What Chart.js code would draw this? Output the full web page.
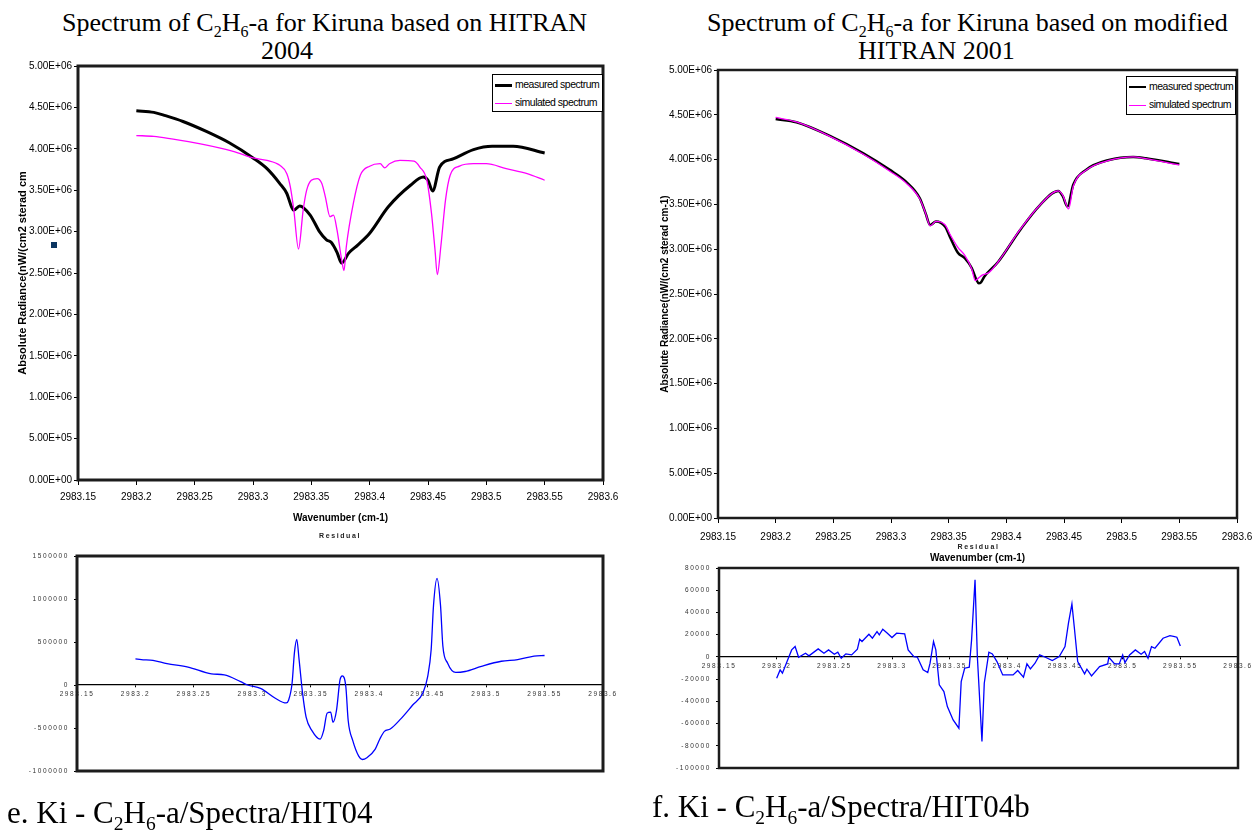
<!DOCTYPE html>
<html>
<head>
<meta charset="utf-8">
<script src="https://cdn.jsdelivr.net/npm/chart.js@4.4.1/dist/chart.umd.min.js"></script>
<style>
body { margin: 0; background: #fff; }
#page { position: relative; width: 1257px; height: 833px; overflow: hidden; background: #fff; }
canvas { position: absolute; }
.t { position: absolute; font-family: 'Liberation Serif', 'Times New Roman', serif; font-size: 26px; line-height: 26px; white-space: nowrap; color: #000; }
.t sub { font-size: 16px; vertical-align: -6px; line-height: 0; }
.cap { font-size: 31px; line-height: 31px; }
.cap sub { font-size: 19.5px; vertical-align: -7px; }
.legend { position: absolute; box-sizing: border-box; border: 1px solid #000; background: #fff; font-family: 'Liberation Sans', Arial, sans-serif; font-size: 10.5px; letter-spacing: -0.5px; padding: 0 2px; }
.legend div { height: 18px; line-height: 18px; white-space: nowrap; }
.legend .sw { display: inline-block; width: 17px; vertical-align: middle; margin-right: 3px; }
.dot { position: absolute; left: 51px; top: 242px; width: 6px; height: 6px; background: #0b3560; }
</style>
</head>
<body>
<div id="page">
  <div class="t" style="left:62px; top:10px;">Spectrum of C<sub>2</sub>H<sub>6</sub>-a for Kiruna based on HITRAN</div>
  <div class="t" style="left:261px; top:38px;">2004</div>
  <div class="t" style="left:707px; top:10px;">Spectrum of C<sub>2</sub>H<sub>6</sub>-a for Kiruna based on modified</div>
  <div class="t" style="left:858px; top:38px;">HITRAN 2001</div>

  <canvas id="specA" width="630" height="490" style="left:0; top:50px;"></canvas>
  <canvas id="specC" width="627" height="525" style="left:630px; top:50px;"></canvas>
  <canvas id="resB" width="630" height="300" style="left:0; top:525px;"></canvas>
  <canvas id="resD" width="627" height="288" style="left:630px; top:537px;"></canvas>

  <div class="dot"></div>
  <div class="legend" id="legA" style="left:492px; top:74px; width:111px; height:38px;"></div>
  <div class="legend" id="legC" style="left:1126px; top:76px; width:110px; height:39px;"></div>

  <div class="t cap" style="left:7px; top:797px;">e. Ki - C<sub>2</sub>H<sub>6</sub>-a/Spectra/HIT04</div>
  <div class="t cap" style="left:652px; top:791px;">f. Ki - C<sub>2</sub>H<sub>6</sub>-a/Spectra/HIT04b</div>
</div>

<script>
// wavenumber axis (cm-1)
const wnMin = 2983.15;
const wnMax = 2983.6;
const wnStep = 0.05;
const legendLabels = ['measured spectrum', 'simulated spectrum'];

// --- HIT04: measured spectrum
const hit04MeasWn = [2983.200, 2983.215, 2983.225, 2983.240, 2983.260, 2983.280, 2983.300, 2983.312, 2983.323,
  2983.329, 2983.333, 2983.335, 2983.340, 2983.349, 2983.357, 2983.363, 2983.367, 2983.372, 2983.376,
  2983.382, 2983.390, 2983.400, 2983.416, 2983.435, 2983.446, 2983.450, 2983.454, 2983.460, 2983.472,
  2983.489, 2983.505, 2983.523, 2983.550];
const hit04Meas = [4.46e6, 4.44e6, 4.40e6, 4.33e6, 4.21e6, 4.07e6, 3.89e6, 3.76e6, 3.58e6,
  3.46e6, 3.30e6, 3.26e6, 3.31e6, 3.20e6, 3.00e6, 2.90e6, 2.87e6, 2.75e6, 2.62e6,
  2.74e6, 2.84e6, 2.98e6, 3.30e6, 3.56e6, 3.66e6, 3.62e6, 3.49e6, 3.78e6, 3.88e6,
  3.99e6, 4.03e6, 4.03e6, 3.95e6];

// --- HIT04: simulated spectrum
const hit04SimWn = [2983.200, 2983.215, 2983.230, 2983.255, 2983.283, 2983.300, 2983.312, 2983.323, 2983.329,
  2983.332, 2983.335, 2983.339, 2983.343, 2983.346, 2983.350, 2983.355, 2983.359, 2983.362, 2983.366,
  2983.369, 2983.372, 2983.376, 2983.378, 2983.380, 2983.386, 2983.392, 2983.400, 2983.409, 2983.413,
  2983.417, 2983.426, 2983.438, 2983.443, 2983.449, 2983.453, 2983.456, 2983.458, 2983.461, 2983.465,
  2983.469, 2983.477, 2983.489, 2983.500, 2983.517, 2983.535, 2983.550];
const hit04Sim = [4.16e6, 4.15e6, 4.12e6, 4.06e6, 3.97e6, 3.89e6, 3.86e6, 3.80e6, 3.70e6,
  3.54e6, 3.26e6, 2.79e6, 3.26e6, 3.50e6, 3.62e6, 3.64e6, 3.58e6, 3.42e6, 3.18e6,
  3.20e6, 3.02e6, 2.66e6, 2.53e6, 2.82e6, 3.34e6, 3.68e6, 3.79e6, 3.82e6, 3.77e6,
  3.82e6, 3.86e6, 3.85e6, 3.78e6, 3.62e6, 3.22e6, 2.78e6, 2.48e6, 2.82e6, 3.38e6,
  3.68e6, 3.79e6, 3.82e6, 3.82e6, 3.76e6, 3.70e6, 3.62e6];

// --- HIT04: residual
const hit04ResWn = [2983.200, 2983.205, 2983.215, 2983.227, 2983.245, 2983.265, 2983.276, 2983.290, 2983.296,
  2983.307, 2983.320, 2983.329, 2983.331, 2983.334, 2983.336, 2983.338, 2983.340, 2983.343, 2983.346,
  2983.351, 2983.358, 2983.361, 2983.364, 2983.367, 2983.369, 2983.372, 2983.375, 2983.377, 2983.380,
  2983.382, 2983.386, 2983.391, 2983.394, 2983.398, 2983.405, 2983.409, 2983.413, 2983.418, 2983.427,
  2983.437, 2983.446, 2983.450, 2983.453, 2983.455, 2983.458, 2983.461, 2983.463, 2983.467, 2983.474,
  2983.482, 2983.496, 2983.513, 2983.527, 2983.541, 2983.550];
const hit04Res = [303000, 295000, 287000, 248000, 209000, 130000, 118000, 39000, 0,
  -39000, -157000, -209000, -177000, 20000, 374000, 531000, 295000, -98000, -374000,
  -531000, -630000, -531000, -327000, -315000, -433000, -295000, 59000, 106000, -20000,
  -413000, -650000, -827000, -866000, -846000, -748000, -630000, -539000, -512000, -394000,
  -236000, -91000, 98000, 413000, 925000, 1240000, 925000, 453000, 256000, 146000,
  157000, 217000, 276000, 295000, 335000, 343000];

// --- HIT04b: measured spectrum
const hit04bMeasWn = [2983.200, 2983.218, 2983.247, 2983.276, 2983.299, 2983.313, 2983.325, 2983.330, 2983.334,
  2983.339, 2983.347, 2983.351, 2983.358, 2983.364, 2983.370, 2983.374, 2983.376, 2983.378, 2983.381,
  2983.393, 2983.412, 2983.429, 2983.445, 2983.449, 2983.453, 2983.458, 2983.469, 2983.489, 2983.510,
  2983.521, 2983.550];
const hit04bMeas = [4.453e6, 4.417e6, 4.264e6, 4.07e6, 3.885e6, 3.754e6, 3.569e6, 3.40e6, 3.27e6,
  3.31e6, 3.25e6, 3.14e6, 2.96e6, 2.90e6, 2.79e6, 2.66e6, 2.62e6, 2.63e6, 2.695e6,
  2.86e6, 3.215e6, 3.49e6, 3.65e6, 3.59e6, 3.475e6, 3.72e6, 3.885e6, 3.996e6, 4.03e6,
  4.015e6, 3.95e6];

// --- HIT04b: simulated spectrum
const hit04bSimWn = [2983.200, 2983.218, 2983.247, 2983.276, 2983.299, 2983.313, 2983.325, 2983.330, 2983.334,
  2983.339, 2983.347, 2983.351, 2983.358, 2983.364, 2983.370, 2983.373, 2983.376, 2983.379, 2983.385,
  2983.393, 2983.412, 2983.429, 2983.445, 2983.449, 2983.454, 2983.458, 2983.469, 2983.489, 2983.510,
  2983.521, 2983.550];
const hit04bSim = [4.47e6, 4.42e6, 4.26e6, 4.06e6, 3.87e6, 3.74e6, 3.56e6, 3.40e6, 3.26e6,
  3.31e6, 3.27e6, 3.17e6, 3.02e6, 2.93e6, 2.78e6, 2.65e6, 2.68e6, 2.71e6, 2.74e6,
  2.86e6, 3.22e6, 3.49e6, 3.65e6, 3.60e6, 3.45e6, 3.70e6, 3.88e6, 3.99e6, 4.03e6,
  4.01e6, 3.94e6];

// --- HIT04b: residual
const hit04bResWn = [2983.200, 2983.203, 2983.205, 2983.209, 2983.213, 2983.216, 2983.219, 2983.225, 2983.228,
  2983.236, 2983.241, 2983.245, 2983.250, 2983.253, 2983.256, 2983.260, 2983.265, 2983.270, 2983.272,
  2983.274, 2983.280, 2983.283, 2983.287, 2983.289, 2983.292, 2983.296, 2983.300, 2983.304, 2983.311,
  2983.314, 2983.319, 2983.322, 2983.327, 2983.331, 2983.333, 2983.336, 2983.338, 2983.341, 2983.345,
  2983.348, 2983.353, 2983.358, 2983.360, 2983.363, 2983.367, 2983.369, 2983.372, 2983.374, 2983.378,
  2983.380, 2983.384, 2983.387, 2983.391, 2983.396, 2983.405, 2983.409, 2983.414, 2983.417, 2983.420,
  2983.424, 2983.428, 2983.433, 2983.439, 2983.445, 2983.450, 2983.453, 2983.456, 2983.458, 2983.461,
  2983.467, 2983.469, 2983.473, 2983.480, 2983.487, 2983.488, 2983.493, 2983.497, 2983.500, 2983.502,
  2983.506, 2983.511, 2983.516, 2983.519, 2983.522, 2983.525, 2983.528, 2983.535, 2983.541, 2983.545,
  2983.547, 2983.550];
const hit04bRes = [-19200, -11700, -14700, -4200, 6300, 9300, -300, 3300, 900,
  7200, 3300, 6300, 2400, 4200, -1200, 2700, 1800, 6900, 15900,
  13800, 20400, 16800, 22800, 19800, 24900, 21300, 17400, 21300, 20700,
  6300, 300, -300, -11700, -14100, -5700, 13800, 6300, -25200, -31200,
  -44700, -56700, -64200, -22200, -10200, -9300, 15300, 69300, 300, -76200,
  -23700, 4200, 2700, -4200, -16200, -16200, -12300, -18300, -6300, -10800,
  -5700, 1800, -300, -3300, 300, 9300, 30300, 47700, 27300, -4200,
  -15300, -11100, -17100, -8700, -6300, -300, -6300, -6300, 1800, -5100,
  1800, 6300, 2400, 4800, -1200, 9300, 7800, 16800, 19200, 18300,
  17700, 9900];

const pts = (xs, ys) => xs.map((x, i) => ({ x: x, y: ys[i] }));

function sci(v) {
  const parts = Number(v).toExponential(2).split('e');
  const n = parseInt(parts[1], 10);
  return parts[0] + 'E' + (n < 0 ? '-' : '+') + String(Math.abs(n)).padStart(2, '0');
}
function wnLabel(v) {
  return parseFloat(Number(v).toFixed(2)).toString();
}

Chart.defaults.font.family = "'Liberation Sans', Arial, sans-serif";
Chart.defaults.color = '#000';

// thick frame round the plot area
const framePlugin = {
  id: 'frame',
  afterDatasetsDraw(chart, args, opts) {
    const a = chart.chartArea;
    const ctx = chart.ctx;
    ctx.save();
    ctx.lineWidth = opts.width;
    ctx.strokeStyle = opts.color;
    ctx.strokeRect(a.left, a.top, a.right - a.left, a.bottom - a.top);
    ctx.restore();
  }
};
// spaced out lettering of the residual panels
const spacingPlugin = {
  id: 'spacing',
  beforeLayout(chart, args, opts) { chart.ctx.letterSpacing = opts.value; },
  beforeDraw(chart, args, opts) { chart.ctx.letterSpacing = opts.value; }
};

function buildLegend(id, measWidth) {
  const box = document.getElementById(id);
  const styles = [measWidth + 'px solid #000', '1px solid #ff00ff'];
  legendLabels.forEach((txt, i) => {
    const row = document.createElement('div');
    const sw = document.createElement('span');
    sw.className = 'sw';
    sw.style.borderTop = styles[i];
    row.appendChild(sw);
    row.appendChild(document.createTextNode(txt));
    box.appendChild(row);
  });
}

function spectrumChart(id, meas, sim, yTitle, g) {
  return new Chart(document.getElementById(id), {
    type: 'line',
    data: {
      datasets: [
        { label: legendLabels[0], data: meas, borderColor: '#000', borderWidth: g.measWidth,
          pointRadius: 0, cubicInterpolationMode: 'monotone', order: 1 },
        { label: legendLabels[1], data: sim, borderColor: '#ff00ff', borderWidth: 1.3,
          pointRadius: 0, cubicInterpolationMode: 'monotone', order: 0 }
      ]
    },
    options: {
      responsive: false,
      animation: false,
      devicePixelRatio: 1,
      events: [],
      layout: { padding: { top: g.padTop, right: g.padRight, bottom: 0, left: 0 } },
      plugins: { legend: { display: false }, tooltip: { enabled: false }, frame: { width: g.frame, color: '#1c1c1c' } },
      scales: {
        x: {
          type: 'linear', min: wnMin, max: wnMax,
          ticks: { stepSize: wnStep, callback: wnLabel, maxRotation: 0, minRotation: 0, autoSkip: false,
                   padding: g.xTickPad, color: '#000', font: { size: 10 } },
          grid: { drawOnChartArea: false, drawTicks: true, tickLength: 5, color: '#000' },
          border: { display: false },
          title: { display: true, text: 'Wavenumber (cm-1)', color: '#000', font: { size: 10, weight: 'bold' },
                   padding: { top: 0, bottom: g.xTitlePad } },
          afterFit(s) { s.height = g.xHeight; s.paddingLeft = 0; s.paddingRight = 0; }
        },
        y: {
          min: 0, max: 5e6,
          ticks: { stepSize: 5e5, callback: sci, padding: 2, color: '#000', font: { size: 10 } },
          grid: { drawOnChartArea: false, drawTicks: true, tickLength: 4, color: '#000' },
          border: { display: false },
          title: { display: true, text: yTitle, color: '#000', font: { size: g.yTitleSize, weight: 'bold' },
                   padding: { top: g.yTitlePad, bottom: 0 } },
          afterFit(s) { s.width = g.yWidth; s.paddingTop = 0; s.paddingBottom = 0; }
        }
      }
    },
    plugins: [framePlugin]
  });
}

function residualChart(id, data, yMin, yMax, yStep, g) {
  return new Chart(document.getElementById(id), {
    type: 'line',
    data: {
      datasets: [{ label: 'Residual', data: data, borderColor: '#0000ff', borderWidth: 1.3,
                   pointRadius: 0, cubicInterpolationMode: g.mode, tension: 0 }]
    },
    options: {
      responsive: false,
      animation: false,
      devicePixelRatio: 1,
      events: [],
      layout: { padding: { top: 0, right: g.padRight, bottom: g.padBottom, left: 0 } },
      plugins: {
        legend: { display: false },
        tooltip: { enabled: false },
        title: { display: true, text: 'Residual', fullSize: false, color: '#222',
                 font: { size: 7, weight: 'bold' }, padding: { top: g.titleTop, bottom: g.titleBottom } },
        frame: { width: g.frame, color: '#1c1c1c' },
        spacing: { value: '1.6px' }
      },
      scales: {
        x: {
          type: 'linear', min: wnMin, max: wnMax, position: { y: 0 },
          ticks: { stepSize: wnStep, callback: wnLabel, maxRotation: 0, minRotation: 0, autoSkip: false,
                   padding: 3, color: '#333', font: { size: 6.5 } },
          grid: { drawOnChartArea: false, drawTicks: true, tickLength: 2, color: '#000' },
          border: { display: true, color: '#000', width: 1.3 },
          afterFit(s) { s.paddingLeft = 0; s.paddingRight = 0; s.paddingTop = 0; s.paddingBottom = 0; }
        },
        y: {
          min: yMin, max: yMax,
          ticks: { stepSize: yStep, callback: v => String(Math.round(v)), padding: 5, color: '#333', font: { size: 6.5 } },
          grid: { drawOnChartArea: false, drawTicks: true, tickLength: 3, color: '#000' },
          border: { display: false },
          afterFit(s) { s.width = g.yWidth; s.paddingTop = 0; s.paddingBottom = 0; }
        }
      }
    },
    plugins: [framePlugin, spacingPlugin]
  });
}

spectrumChart('specA', pts(hit04MeasWn, hit04Meas), pts(hit04SimWn, hit04Sim),
  'Absolute Radiance(nW/(cm2 sterad cm',
  { padTop: 16, padRight: 27, xHeight: 60, xTickPad: 6, xTitlePad: 16, yWidth: 78,
    yTitleSize: 11, yTitlePad: 16, measWidth: 3, frame: 3 });

spectrumChart('specC', pts(hit04bMeasWn, hit04bMeas), pts(hit04bSimWn, hit04bSim),
  'Absolute Radiance(nW/(cm2 sterad cm-1)',
  { padTop: 20, padRight: 20, xHeight: 57, xTickPad: 8, xTitlePad: 11, yWidth: 88,
    yTitleSize: 10, yTitlePad: 29, measWidth: 2.5, frame: 2.5 });

residualChart('resB', pts(hit04ResWn, hit04Res), -1000000, 1500000, 500000,
  { padRight: 27, padBottom: 54, yWidth: 77, titleTop: 6.8, titleBottom: 15.8, frame: 3, mode: 'monotone' });

residualChart('resD', pts(hit04bResWn, hit04bRes), -100000, 80000, 20000,
  { padRight: 19, padBottom: 57, yWidth: 89, titleTop: 5.8, titleBottom: 16.8, frame: 2.5, mode: 'default' });

buildLegend('legA', 3);
buildLegend('legC', 2.5);
</script>
</body>
</html>
